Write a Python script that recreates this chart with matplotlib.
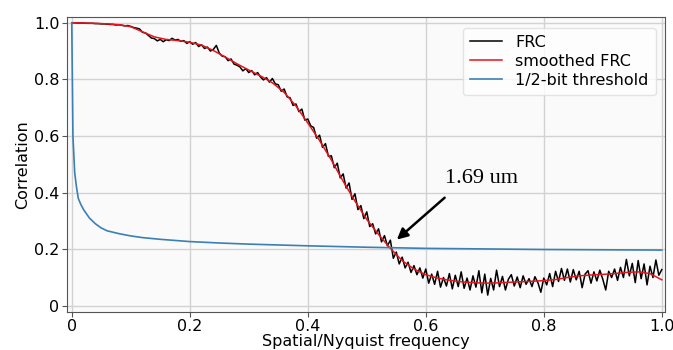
import numpy as np
import matplotlib
matplotlib.use("Agg")
import matplotlib.pyplot as plt

# raw FRC, every 0.005 of Nyquist
frc = [
    1.000, 1.000, 0.999, 0.999, 0.999, 0.998, 0.998, 0.998, 0.997, 0.997,
    0.996, 0.996, 0.995, 0.994, 0.994, 0.992, 0.993, 0.991, 0.989, 0.990,
    0.987, 0.983, 0.981, 0.978, 0.966, 0.964, 0.955, 0.946, 0.944, 0.936,
    0.941, 0.933, 0.940, 0.937, 0.945, 0.939, 0.941, 0.934, 0.937, 0.927,
    0.933, 0.924, 0.930, 0.916, 0.922, 0.909, 0.914, 0.900, 0.906, 0.920,
    0.893, 0.882, 0.880, 0.866, 0.872, 0.854, 0.850, 0.844, 0.830, 0.838,
    0.824, 0.831, 0.816, 0.824, 0.808, 0.798, 0.806, 0.790, 0.803, 0.784,
    0.781, 0.758, 0.766, 0.738, 0.735, 0.708, 0.713, 0.686, 0.695, 0.656,
    0.660, 0.636, 0.630, 0.592, 0.603, 0.560, 0.573, 0.528, 0.530, 0.488,
    0.504, 0.452, 0.466, 0.416, 0.434, 0.376, 0.396, 0.340, 0.354, 0.308,
    0.332, 0.280, 0.290, 0.254, 0.272, 0.226, 0.248, 0.212, 0.232, 0.168,
    0.190, 0.148, 0.172, 0.134, 0.154, 0.118, 0.142, 0.110, 0.134, 0.098,
    0.130, 0.080, 0.112, 0.076, 0.122, 0.066, 0.100, 0.070, 0.114, 0.060,
    0.108, 0.068, 0.120, 0.062, 0.098, 0.056, 0.106, 0.066, 0.124, 0.046,
    0.112, 0.038, 0.097, 0.056, 0.126, 0.068, 0.104, 0.056, 0.094, 0.110,
    0.070, 0.102, 0.064, 0.106, 0.076, 0.096, 0.068, 0.103, 0.082, 0.048,
    0.098, 0.074, 0.114, 0.068, 0.122, 0.086, 0.132, 0.090, 0.130, 0.084,
    0.128, 0.092, 0.122, 0.064, 0.112, 0.124, 0.080, 0.120, 0.088, 0.126,
    0.094, 0.056, 0.122, 0.100, 0.130, 0.090, 0.136, 0.100, 0.164, 0.106,
    0.150, 0.082, 0.160, 0.096, 0.148, 0.074, 0.140, 0.100, 0.162, 0.108,
    0.128,
]
frc_x = np.linspace(0, 1, len(frc))

# smoothed FRC every 0.02
smooth = [
    1.000, 0.999, 0.998, 0.996, 0.993, 0.986, 0.968, 0.950, 0.941, 0.937,
    0.931, 0.921, 0.902, 0.879, 0.855, 0.833, 0.812, 0.788, 0.754, 0.706,
    0.646, 0.584, 0.515, 0.440, 0.370, 0.305, 0.252, 0.203, 0.160, 0.130,
    0.110, 0.098, 0.090, 0.085, 0.082, 0.080, 0.081, 0.083, 0.085, 0.087,
    0.089, 0.093, 0.100, 0.106, 0.109, 0.111, 0.114, 0.118, 0.120, 0.114,
    0.092,
]
smooth_x = np.linspace(0, 1, len(smooth))

# 1/2-bit threshold
thr_x = [0, 0.002, 0.005, 0.008, 0.011, 0.015, 0.02, 0.03, 0.04, 0.05,
         0.06, 0.08, 0.1, 0.12, 0.15, 0.2, 0.25, 0.3, 0.4, 0.5,
         0.6, 0.7, 0.8, 0.9, 1.0]
thr = [1.0, 0.60, 0.47, 0.42, 0.38, 0.36, 0.34, 0.31, 0.29, 0.275,
       0.265, 0.255, 0.247, 0.241, 0.235, 0.227, 0.222, 0.218, 0.212, 0.207,
       0.203, 0.201, 0.199, 0.198, 0.197]

ticks = [0, 0.2, 0.4, 0.6, 0.8, 1.0]
tick_labels = ["0", "0.2", "0.4", "0.6", "0.8", "1.0"]


def main():
    fig = plt.figure(figsize=(6.73, 3.5), dpi=100)
    ax = fig.add_axes([0.0996, 0.11, 0.889, 0.842])
    ax.set_facecolor("#fafafa")

    ax.plot(frc_x, frc, color="black", lw=1.1, label="FRC")
    ax.plot(smooth_x, smooth, color="#e8141c", lw=1.1, label="smoothed FRC")
    ax.plot(thr_x, thr, color="#3a80b4", lw=1.2, label="1/2-bit threshold")

    ax.set_xlim(-0.008, 1.006)
    ax.set_ylim(-0.02, 1.021)
    ax.set_xticks(ticks)
    ax.set_xticklabels(tick_labels)
    ax.set_yticks(ticks)
    ax.set_yticklabels(tick_labels)
    ax.tick_params(labelsize=11.5, length=3.5, color="#555555", pad=2)
    ax.grid(True, color="#d2d2d2", lw=1)
    for s in ax.spines.values():
        s.set_color("#555555")

    ax.set_xlabel("Spatial/Nyquist frequency", fontsize=11.5, labelpad=0)
    ax.set_ylabel("Correlation", fontsize=11.5, labelpad=3)

    ax.legend(loc="upper right", fontsize=11.5, labelspacing=0.25,
              handlelength=2.0, borderpad=0.45, framealpha=0.8,
              edgecolor="#dddddd", bbox_to_anchor=(0.997, 0.99))

    ax.text(0.694, 0.434, "1.69 um", family="Liberation Serif", fontsize=16,
            ha="center", va="baseline")
    ax.annotate("", xy=(0.551, 0.234), xytext=(0.632, 0.382),
                arrowprops=dict(arrowstyle="-|>", color="black", lw=1.8,
                                mutation_scale=16, shrinkA=0, shrinkB=0))

    fig.savefig("out.png", dpi=100)


if __name__ == "__main__":
    main()
